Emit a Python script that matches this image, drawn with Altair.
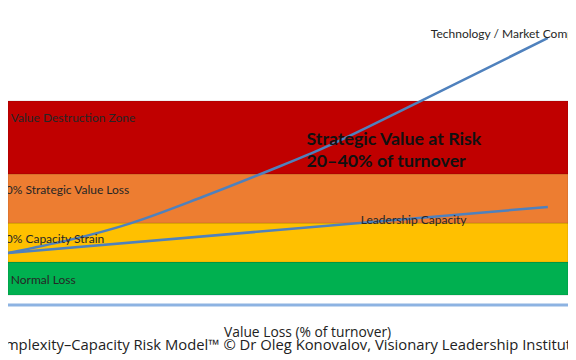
import altair as alt
import pandas as pd

# ---- data ----
band_names = ["Normal Loss", "Capacity Strain", "Strategic Value Loss", "Value Destruction"]
band_lo = [3.3, 14.3, 27.3, 43.7]
band_hi = [14.3, 27.3, 43.7, 68.0]
band_colors = ["#00B050", "#FFC000", "#ED7D31", "#C00000"]

tech_x = [0, 22, 34.7, 46.9, 55.6, 73.4, 96.4]
tech_y = [17.3, 27.3, 36.0, 45.0, 51.7, 67.7, 89.0]
lead_x = [0, 96.4]
lead_y = [17.3, 32.7]

band_label_text = ["Value Destruction Zone", "0% Strategic Value Loss", "0% Capacity Strain", "Normal Loss"]
band_label_x = [0.5, -0.4, -0.4, 0.5]
band_label_y = [62.3, 38.3, 22.0, 8.3]

W = 560
H = 348
Y_TOP = 99.0
Y_BOT = Y_TOP - H / 3.0

xs = alt.Scale(domain=[0, 100], nice=False, zero=False)
ys = alt.Scale(domain=[Y_BOT, Y_TOP], nice=False, zero=False)

bands = pd.DataFrame({"name": band_names, "lo": band_lo, "hi": band_hi,
                      "x0": [0] * 4, "x1": [100] * 4})
band_layer = alt.Chart(bands).mark_rect(stroke="#000000", strokeOpacity=0.12, strokeWidth=1).encode(
    x=alt.X("x0:Q", scale=xs, axis=None),
    x2="x1:Q",
    y=alt.Y("lo:Q", scale=ys, axis=None),
    y2="hi:Q",
    color=alt.Color("name:N", scale=alt.Scale(domain=band_names, range=band_colors), legend=None),
)

axis_df = pd.DataFrame({"x0": [0], "x1": [100], "y": [0]})
axis_layer = alt.Chart(axis_df).mark_rule(color="#8DB3E2", strokeWidth=3).encode(
    x=alt.X("x0:Q", scale=xs), x2="x1:Q", y=alt.Y("y:Q", scale=ys))

tech = pd.DataFrame({"x": tech_x, "y": tech_y})
lead = pd.DataFrame({"x": lead_x, "y": lead_y})
line_style = dict(color="#4F81BD", strokeWidth=2.5)
tech_layer = alt.Chart(tech).mark_line(interpolate="monotone", **line_style).encode(
    x=alt.X("x:Q", scale=xs), y=alt.Y("y:Q", scale=ys))
lead_layer = alt.Chart(lead).mark_line(**line_style).encode(
    x=alt.X("x:Q", scale=xs), y=alt.Y("y:Q", scale=ys))

bl = pd.DataFrame({"t": band_label_text, "x": band_label_x, "y": band_label_y})
band_text = alt.Chart(bl).mark_text(align="left", baseline="middle", font="Lato", fontSize=12,
                                    color="#262626").encode(
    x=alt.X("x:Q", scale=xs), y=alt.Y("y:Q", scale=ys), text="t:N")

big = pd.DataFrame({"t": ["Strategic Value at Risk", "20\u201340% of turnover"], "x": [53.3, 53.3], "y": [55.0, 47.7]})
big_text = alt.Chart(big).mark_text(align="left", baseline="middle", font="Lato", fontSize=17.8,
                                    fontWeight="bold", color="#111111").encode(
    x=alt.X("x:Q", scale=xs), y=alt.Y("y:Q", scale=ys), text="t:N")

sl = pd.DataFrame({"t": ["Leadership Capacity", "Technology / Market Comp"], "x": [63.0, 75.5], "y": [28.3, 90.3]})
series_text = alt.Chart(sl).mark_text(align="left", baseline="middle", font="Lato", fontSize=12,
                                      color="#262626").encode(
    x=alt.X("x:Q", scale=xs), y=alt.Y("y:Q", scale=ys), text="t:N")

xt = pd.DataFrame({"t": ["Value Loss (% of turnover)"], "x": [53.5], "y": [-10.8]})
xtitle = alt.Chart(xt).mark_text(align="center", baseline="alphabetic", font="Open Sans", fontSize=13.8,
                                 color="#222222").encode(
    x=alt.X("x:Q", scale=xs), y=alt.Y("y:Q", scale=ys), text="t:N")

ft = pd.DataFrame({"t": ["mplexity\u2013Capacity Risk Model\u2122 \u00a9 Dr Oleg Konovalov, Visionary Leadership Institut"],
                   "x": [50.0], "y": [-15.0]})
footer = alt.Chart(ft).mark_text(align="center", baseline="alphabetic", font="Open Sans", fontSize=14.8,
                                 color="#222222").encode(
    x=alt.X("x:Q", scale=xs), y=alt.Y("y:Q", scale=ys), text="t:N")

chart = alt.layer(band_layer, axis_layer, tech_layer, lead_layer, band_text, big_text,
                  series_text, xtitle, footer).properties(
    width=W, height=H, autosize=alt.AutoSizeParams(type="none"), padding=0,
    background="white").configure_view(stroke=None)

chart.save("out.html", embed_options={"renderer": "svg", "actions": False})
